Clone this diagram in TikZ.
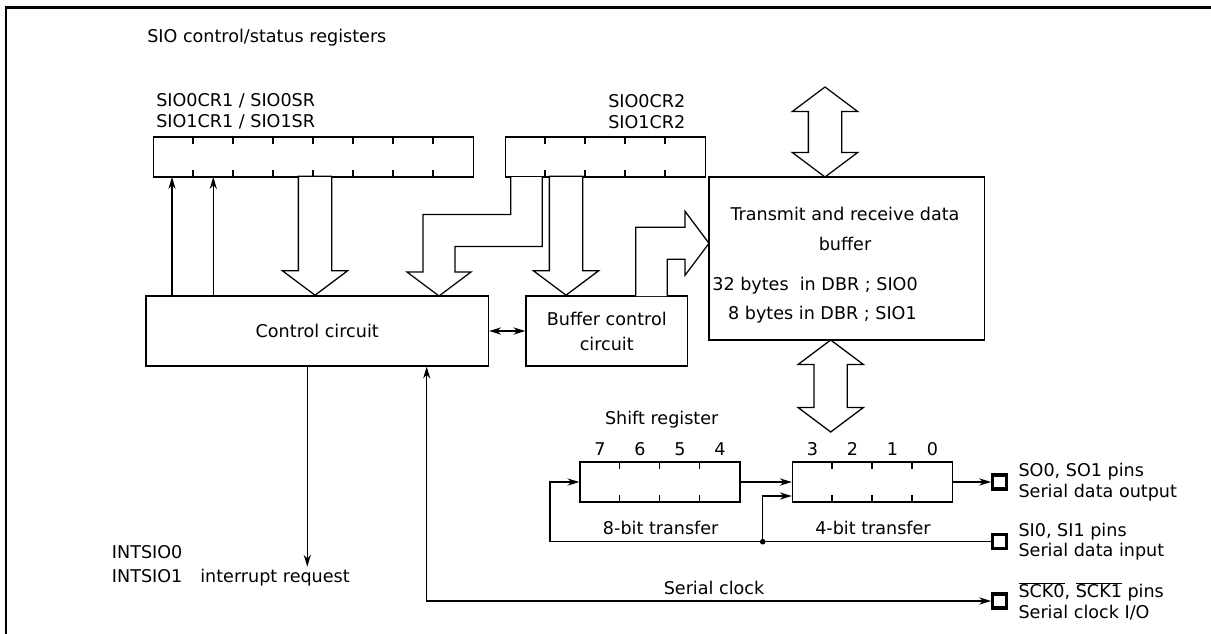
\documentclass[tikz,border=0pt]{standalone}
\usepackage{fontspec}
\setmainfont{DejaVu Sans}
\usetikzlibrary{arrows.meta,shapes.arrows,positioning}

\newcommand{\ovl}[1]{$\overline{\mbox{#1}}$}

\begin{document}
\begin{tikzpicture}[scale=1.0, every node/.style={inner sep=0pt, font=\fontsize{12.5}{14.6}\selectfont}]
  \tikzset{wire/.style={line width=0.9pt}}
  \tikzset{sig/.style={wire, -{Stealth[length=3mm, width=1.8mm]}}}
  \tikzset{sigboth/.style={wire, {Stealth[length=3mm, width=1.8mm]}-{Stealth[length=3mm, width=1.8mm]}}}
  \tikzset{blk/.style={rectangle, draw, wire, inner sep=0pt}}
  \tikzset{reg/.style={rectangle, draw, wire, inner sep=0pt, minimum height=1.0cm}}
  \tikzset{pad/.style={rectangle, draw, line width=2.2pt, inner sep=0pt, minimum size=0.35cm}}
  \tikzset{fat/.style={single arrow, draw, wire, fill=white, inner sep=0.4cm, single arrow head extend=0.4cm, single arrow tip angle=106.26, shape border rotate=270}}
  \tikzset{fatboth/.style={double arrow, draw, wire, fill=white, inner sep=0.4cm, double arrow head extend=0.4cm, double arrow tip angle=106.26, shape border rotate=90}}
  \tikzset{bentbus/.style={draw, wire, fill=white}}
  \useasboundingbox (0,0) rectangle (30.2750,-15.8500);
  \draw[line width=1.5pt] (0.1500,-15.8500) |- (30.2750,-0.1875);
  % registers
  \node[anchor=west] (title) at (3.6750,-0.9500) {SIO control/status registers};
  \node[reg, minimum width=8.0cm] (ctrlreg) at (7.8375,-3.9250) {};
  \node[reg, minimum width=5.0cm] (bufreg) at (15.1375,-3.9250) {};
  \node[anchor=west, align=left] (ctrlreglbl) at (3.9000,-2.7875) {SIO0CR1 / SIO0SR\\SIO1CR1 / SIO1SR};
  \node[anchor=west, align=left] (bufreglbl) at (15.2000,-2.7875) {SIO0CR2\\SIO1CR2};
  % blocks
  \node[blk, minimum width=8.5625cm, minimum height=1.75cm] (ctrl) at (7.9313,-8.2750) {Control circuit};
  \node[blk, minimum width=4.0375cm, minimum height=1.75cm, align=center] (bufctl) at (15.1688,-8.2750) {Buffer control\\[3.2pt]circuit};
  \node[blk, minimum width=6.8875cm, minimum height=4.0750cm] (dbuf) at (21.1688,-6.4625) {};
  \node (dbuftxt1) at (21.1250,-5.3375) {Transmit and receive data};
  \node (dbuftxt2) at (21.1250,-6.1000) {buffer};
  \node[anchor=east] (dbuftxt3) at (22.9500,-7.1500) {32 bytes\ \ in DBR ; SIO0};
  \node[anchor=east] (dbuftxt4) at (22.9250,-7.8750) {8 bytes in DBR ; SIO1};
  % shift register
  \node[reg, minimum width=4.0cm] (shifthi) at (16.5000,-12.0500) {};
  \node[reg, minimum width=4.0cm] (shiftlo) at (21.8125,-12.0500) {};
  \node (shiftlbl) at (16.5425,-10.5000) {Shift register};
  \foreach \b [count=\i] in {7,6,5,4}
    \node (bit\b) at (14.0+\i,-11.2325) {\b};
  \foreach \b [count=\i] in {3,2,1,0}
    \node (bit\b) at (19.3125+\i,-11.2325) {\b};
  \foreach \n/\k in {ctrlreg/7, bufreg/4, shifthi/3, shiftlo/3}
    \foreach \i in {1,...,\k}
      \draw[wire] ([xshift=\i cm]\n.north west) -- ++(0,-0.2) ([xshift=\i cm]\n.south west) -- ++(0,0.2);
  \node (lbl8) at (16.5175,-13.2075) {8-bit transfer};
  \node (lbl4) at (21.8250,-13.2075) {4-bit transfer};
  % pins
  \node[pad] (sopad) at (24.9925,-12.0500) {};
  \node[pad] (sipad) at (24.9925,-13.5425) {};
  \node[pad] (sckpad) at (24.9925,-15.0250) {};
  \node[right=0.25cm of sopad, align=left] (solbl) {SO0, SO1 pins\\Serial data output};
  \node[right=0.25cm of sipad, align=left] (silbl) {SI0, SI1 pins\\Serial data input};
  \node[right=0.25cm of sckpad, align=left] (scklbl) {\ovl{SCK0}, \ovl{SCK1} pins\\Serial clock I/O};
  \node (clklbl) at (17.8500,-14.7075) {Serial clock};
  \node[anchor=base west] (intsio0) at (2.7925,-13.9550) {INTSIO0};
  \node[anchor=base west] (intsio1) at (2.7925,-14.5550) {INTSIO1};
  \node[anchor=base west] (intlbl) at (5.0000,-14.5550) {interrupt request};
  % wide buses
  \node[fat, minimum height=2.975cm, anchor=tip] (regarrow) at (7.8750,-7.4000) {};
  \node[fat, minimum height=2.975cm, anchor=tip] (bufregarrow) at (14.1500,-7.4000) {};
  \node[fatboth, minimum height=2.25cm] (busarrow) at (20.6250,-3.3000) {};
  \node[fatboth, minimum height=2.3cm] (shiftarrow) at (20.7675,-9.6500) {};
  \draw[bentbus] (12.7675,-4.4250) -- (12.7675,-5.3625) -- (10.5750,-5.3625) -- (10.5750,-6.8000) -- (10.1750,-6.8000) -- (10.9750,-7.4000) -- (11.7750,-6.8000) -- (11.3750,-6.8000) -- (11.3750,-6.1625) -- (13.5575,-6.1625) -- (13.5575,-4.4250);
  \draw[bentbus] (15.8925,-7.4000) -- (15.8925,-5.6825) -- (17.1250,-5.6825) -- (17.1250,-5.2825) -- (17.7250,-6.0825) -- (17.1250,-6.8825) -- (17.1250,-6.4825) -- (16.6825,-6.4825) -- (16.6825,-7.4000);
  % signals
  \coordinate (stat0) at (4.3000,-4.4250);
  \coordinate (stat1) at (5.3325,-4.4250);
  \draw[sig] (stat0 |- ctrl.north) -- (stat0);
  \draw[sig] (stat1 |- ctrl.north) -- (stat1);
  \draw[sigboth] (ctrl.east) -- (bufctl.west);
  \coordinate (intreq) at (7.6825,-14.1675);
  \draw[sig] (intreq |- ctrl.south) -- (intreq);
  \coordinate (sckturn) at (10.6675,-15.0250);
  \draw[sigboth] (sckturn |- ctrl.south) -- (sckturn) -- (sckpad);
  \coordinate (loopturn) at (13.7500,-13.5425);
  \coordinate (junction) at (19.0675,-13.5425);
  \draw[sig] (sipad) -- (loopturn) |- (shifthi.west);
  \draw[sig] (junction) |- ([yshift=-0.35cm]shiftlo.west);
  \fill (junction) circle (0.07);
  \draw[sig] (shifthi) -- (shiftlo);
  \draw[sig] (shiftlo) -- (sopad);
\end{tikzpicture}
\end{document}
